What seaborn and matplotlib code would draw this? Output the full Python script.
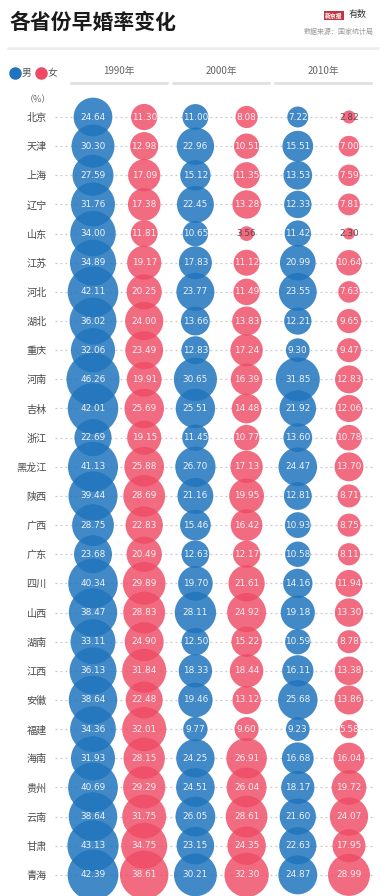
import numpy as np
import pandas as pd
import matplotlib
matplotlib.use("Agg")
import matplotlib.pyplot as plt
import seaborn as sns

provinces = ["北京", "天津", "上海", "辽宁", "山东", "江苏", "河北", "湖北", "重庆", "河南",
             "吉林", "浙江", "黑龙江", "陕西", "广西", "广东", "四川", "山西", "湖南", "江西",
             "安徽", "福建", "海南", "贵州", "云南", "甘肃", "青海"]
years = ["1990年", "2000年", "2010年"]
sexes = ["男", "女"]

male_1990 = [24.64, 30.30, 27.59, 31.76, 34.00, 34.89, 42.11, 36.02, 32.06, 46.26, 42.01, 22.69, 41.13, 39.44,
             28.75, 23.68, 40.34, 38.47, 33.11, 36.13, 38.64, 34.36, 31.93, 40.69, 38.64, 43.13, 42.39]
female_1990 = [11.30, 12.98, 17.09, 17.38, 11.81, 19.17, 20.25, 24.00, 23.49, 19.91, 25.69, 19.15, 25.88, 28.69,
               22.83, 20.49, 29.89, 28.83, 24.90, 31.84, 22.48, 32.01, 28.15, 29.29, 31.75, 34.75, 38.61]
male_2000 = [11.00, 22.96, 15.12, 22.45, 10.65, 17.83, 23.77, 13.66, 12.83, 30.65, 25.51, 11.45, 26.70, 21.16,
             15.46, 12.63, 19.70, 28.11, 12.50, 18.33, 19.46, 9.77, 24.25, 24.51, 26.05, 23.15, 30.21]
female_2000 = [8.08, 10.51, 11.35, 13.28, 3.56, 11.12, 11.49, 13.83, 17.24, 16.39, 14.48, 10.77, 17.13, 19.95,
               16.42, 12.17, 21.61, 24.92, 15.22, 18.44, 13.12, 9.60, 26.91, 26.04, 28.61, 24.35, 32.30]
male_2010 = [7.22, 15.51, 13.53, 12.33, 11.42, 20.99, 23.55, 12.21, 9.30, 31.85, 21.92, 13.60, 24.47, 12.81,
             10.93, 10.58, 14.16, 19.18, 10.59, 16.11, 25.68, 9.23, 16.68, 18.17, 21.60, 22.63, 24.87]
female_2010 = [2.82, 7.00, 7.59, 7.81, 2.30, 10.64, 7.63, 9.65, 9.47, 12.83, 12.06, 10.78, 13.70, 8.71,
               8.75, 8.11, 11.94, 13.30, 8.78, 13.38, 13.86, 5.58, 16.04, 19.72, 24.07, 17.95, 28.99]

series = {
    ("1990年", "男"): male_1990, ("1990年", "女"): female_1990,
    ("2000年", "男"): male_2000, ("2000年", "女"): female_2000,
    ("2010年", "男"): male_2010, ("2010年", "女"): female_2010,
}

rows = []
for yi, yr in enumerate(years):
    for si, sx in enumerate(sexes):
        for pi, p in enumerate(provinces):
            rows.append(dict(province=p, year=yr, sex=sx, value=series[(yr, sx)][pi],
                             col=yi * 2 + si, row=pi))
df = pd.DataFrame(rows)

sns.set_style("white")
plt.rcParams['font.family'] = ['Noto Sans CJK SC', 'DejaVu Sans']

W, H = 387, 896
fig = plt.figure(figsize=(W / 100, H / 100), dpi=100)
fig.patch.set_facecolor("white")

ax_l, ax_r, ax_t, ax_b = 55, 375, 100, 896
ax = fig.add_axes([ax_l / W, 1 - ax_b / H, (ax_r - ax_l) / W, (ax_b - ax_t) / H])
colstep = 51.2
rowstep = 29.15
x0px, y0px = 93, 117
ax.set_xlim(-(x0px - ax_l) / colstep, 5 + (ax_r - (x0px + 5 * colstep)) / colstep)
ax.set_ylim(26 + (ax_b - (y0px + 26 * rowstep)) / rowstep, -(y0px - ax_t) / rowstep)

xmin, xmax = ax.get_xlim()
ax.hlines(range(len(provinces)), xmin, xmax, colors="#c8c8c8", linestyles=(0, (1.5, 2.5)),
          linewidth=0.9, zorder=0)

k = 31.5
vmin, vmax = df["value"].min(), df["value"].max()
palette = {"男": "#2074bd", "女": "#ef4a65"}
for sx in sexes:
    sub = df[df["sex"] == sx]
    sns.scatterplot(data=sub, x="col", y="row", size="value", sizes=(k * vmin, k * vmax),
                    size_norm=(vmin, vmax), color=palette[sx], alpha=0.85 if sx == "男" else 0.82,
                    linewidth=0, legend=False, ax=ax, zorder=2, clip_on=False)

for _, r in df.iterrows():
    small = r["value"] < 5
    ax.text(r["col"], r["row"], f"{r['value']:.2f}", ha="center", va="center", fontsize=6.4,
            color="#5a3a40" if small else "white", alpha=0.9, zorder=3, family=["DejaVu Sans"])

ax.set_yticks(range(len(provinces)))
ax.set_yticklabels(provinces, fontsize=7.3, color="#4a4a4a")
ax.tick_params(axis="y", length=0, pad=6)
ax.set_xticks([])
ax.set_xlabel("")
ax.set_ylabel("")
for s in ax.spines.values():
    s.set_visible(False)
ax.patch.set_alpha(0)

def fx(px):
    return px / W

def fy(py):
    return 1 - py / H

fig.text(fx(9), fy(22), "各省份早婚率变化", fontsize=15, fontweight="bold", color="#1a1a1a",
         ha="left", va="center")
fig.text(fx(334), fy(15.5), "新京报", fontsize=4.2, color="white", ha="center", va="center",
         fontweight="bold", bbox=dict(boxstyle="square,pad=0.2", fc="#c0353f", ec="none"))
fig.text(fx(349), fy(15), "有数", fontsize=6.5, color="#333333", ha="left", va="center",
         style="italic")
fig.text(fx(374), fy(32), "数据来源：国家统计局", fontsize=5, color="#999999", ha="right", va="center")
fig.add_artist(plt.Line2D([fx(8), fx(378)], [fy(48), fy(48)], color="#ebebeb", linewidth=1.8))

fig.add_artist(plt.Line2D([fx(15)], [fy(73)], marker="o", markersize=8, color=palette["男"],
                          linestyle="none"))
fig.text(fx(22), fy(73), "男", fontsize=7, color="#555555", ha="left", va="center")
fig.add_artist(plt.Line2D([fx(41)], [fy(73)], marker="o", markersize=8, color=palette["女"],
                          linestyle="none"))
fig.text(fx(48), fy(73), "女", fontsize=7, color="#555555", ha="left", va="center")

for i, yr in enumerate(years):
    cx = x0px + (2 * i + 0.5) * colstep
    fig.text(fx(cx), fy(71), yr, fontsize=7, color="#666666", ha="center", va="center")
    fig.add_artist(plt.Line2D([fx(cx - 48), fx(cx + 48)], [fy(83), fy(83)], color="#e2e2e2",
                              linewidth=2.2))

fig.text(fx(38), fy(100), "（%）", fontsize=6.5, color="#666666", ha="center", va="center")

fig.savefig("out.png", dpi=100, facecolor="white")
